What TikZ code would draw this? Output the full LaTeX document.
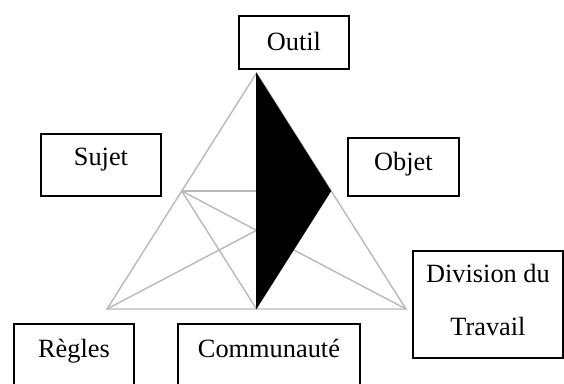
\documentclass[tikz,border=0pt]{standalone}
\usepackage{fontspec}
\setmainfont{Liberation Serif}
\usetikzlibrary{calc}
\begin{document}
\begin{tikzpicture}[x=0.02cm,y=-0.02cm,
  box/.style={draw=black,line width=1.1pt,inner sep=0pt,anchor=north west,fill=white,font=\fontsize{15}{18}\selectfont},
  thin line/.style={draw=gray!55,line width=0.8pt}]
\useasboundingbox (0,0) rectangle (564,383);
\clip (0,0) rectangle (564,383);
%Triangle Coordinates
\coordinate (Top) at (256.5,73);
\coordinate (Left) at (107,309);
\coordinate (Right) at (406,309);
\coordinate (Base) at ($(Left)!0.5!(Right)$);
\coordinate (MidLeft) at ($(Top)!0.5!(Left)$);
\coordinate (MidRight) at ($(Top)!0.5!(Right)$);
\coordinate (Center) at ($(Top)!2/3!(Base)$);
\coordinate (Level) at (MidLeft -| Top);
%connections
\draw [thin line] (Top) -- (Left) -- (Right) -- cycle;
\draw [thin line] (MidLeft) -- (Level);
\draw [thin line] (MidLeft) -- (Center);
\draw [thin line] (MidLeft) -- (Base);
\draw [thin line] (Left) -- (Center);
\draw [thin line] (Right) -- (Center);
%Black part
\fill [black] (Top) -- (MidRight) -- (Base) -- cycle;
\draw [black,line width=1.1pt] (Top) -- (Base);
%Boxes
\node at (238,15) [box,minimum width=2.2cm,text height=0.70cm,text depth=0.36cm] (Outil) {Outil\hspace{0.36cm}};
\node at (40,133) [box,minimum width=2.4cm,text height=0.64cm,text depth=0.60cm] (Sujet) {Sujet};
\node at (347,137) [box,minimum width=2.22cm,text height=0.66cm,text depth=0.50cm] (Objet) {Objet};
\node at (412,250) [box,minimum width=3.0cm,minimum height=2.14cm,text depth=0.18cm,align=center,font=\fontsize{15}{30.2}\selectfont] (Division) {Division du\\Travail};
\node at (13,323) [box,minimum width=2.4cm,text height=0.68cm,text depth=1.2cm] (Regles) {Règles};
\node at (177,323) [box,minimum width=3.64cm,text height=0.68cm,text depth=1.2cm] (Communaute) {Communauté};
\end{tikzpicture}
\end{document}
